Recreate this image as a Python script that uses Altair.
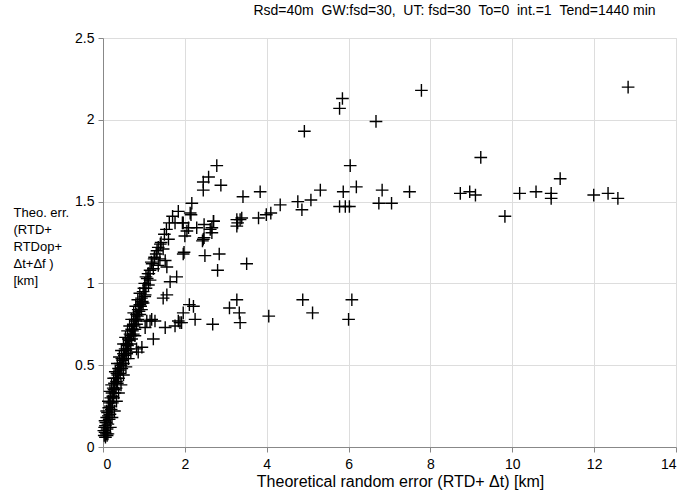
import altair as alt
import pandas as pd

# scattered points (theoretical random error [km], theo. err. [km])
x_sc = [12.83, 7.78, 5.85, 5.78, 6.67, 4.92, 6.04, 9.23, 11.17, 4.33, 4.76, 4.86, 5.08, 5.31,
        5.87, 6.19, 5.78, 5.92, 6.02, 6.82, 6.74, 7.05, 7.49, 8.73, 8.96, 9.10, 9.82, 10.18,
        10.58, 10.95, 10.95, 11.99, 12.34, 12.58, 4.88, 5.12, 6.08, 6.00,
        2.49, 2.84, 3.51, 2.80, 3.27, 3.09, 3.33, 3.35, 4.05, 2.11, 2.21, 1.96, 2.25, 1.92, 2.68,
        2.78, 2.58, 2.45, 2.88, 2.45, 3.42, 3.84, 2.17, 2.13, 1.96, 2.05, 2.00, 2.29, 2.47, 2.70,
        2.66, 2.66, 2.45, 2.43, 2.47, 3.27, 3.39, 3.27, 3.80, 3.99, 4.10, 1.84, 1.76, 1.94,
        1.96, 1.98, 1.60, 1.47, 1.39, 1.52, 1.35, 1.56, 1.23, 1.80, 1.64, 1.15, 1.11, 1.56,
        1.47, 1.03, 0.95, 0.90, 1.23, 0.95, 1.52, 1.76, 1.88, 1.27, 1.07, 1.03, 0.82, 0.86,
        0.78, 1.15, 2.15, 2.62, 2.09, 3.35, 3.29, 1.19, 1.84, 2.70]
y_sc = [2.20, 2.18, 2.13, 2.07, 1.99, 1.93, 1.72, 1.77, 1.64, 1.48, 1.50, 1.45, 1.51, 1.57,
        1.56, 1.59, 1.47, 1.47, 1.47, 1.57, 1.49, 1.49, 1.56, 1.55, 1.56, 1.54, 1.41, 1.55,
        1.56, 1.55, 1.52, 1.54, 1.55, 1.52, 0.90, 0.82, 0.90, 0.78,
        1.17, 1.18, 1.12, 1.08, 0.90, 0.85, 0.82, 0.76, 0.80, 0.87, 0.86, 0.82, 0.78, 0.76, 0.75,
        1.72, 1.65, 1.62, 1.60, 1.57, 1.53, 1.56, 1.49, 1.43, 1.37, 1.32, 1.29, 1.34, 1.36, 1.38,
        1.34, 1.31, 1.27, 1.26, 1.28, 1.39, 1.40, 1.35, 1.40, 1.42, 1.43, 1.44, 1.37, 1.37,
        1.18, 1.19, 1.27, 1.21, 1.15, 1.14, 1.11, 1.10, 1.09, 1.04, 1.01, 1.02, 0.99, 0.93,
        0.91, 0.93, 0.88, 0.86, 0.66, 0.61, 0.73, 0.74, 0.76, 0.77, 0.77, 0.73, 0.60, 0.58,
        0.68, 0.77, 1.42, 1.33, 1.34, 1.39, 1.37, 0.78, 0.77, 1.38]

# dense band of points near the origin
x_band = [0.03, 0.05, 0.08, 0.04, 0.10, 0.07, 0.12, 0.09, 0.15, 0.11, 0.17, 0.14, 0.20, 0.16,
          0.23, 0.19, 0.26, 0.22, 0.29, 0.25, 0.32, 0.28, 0.35, 0.31, 0.38, 0.34, 0.42, 0.38,
          0.46, 0.42, 0.50, 0.46, 0.54, 0.50, 0.58, 0.54, 0.62, 0.58, 0.66, 0.62, 0.70, 0.66,
          0.74, 0.70, 0.78, 0.74, 0.82, 0.78, 0.86, 0.82, 0.90, 0.86, 0.94, 0.90, 0.98, 0.94,
          1.02, 0.98, 1.05, 1.02, 1.08, 1.10, 1.15, 1.20, 1.25, 1.30, 1.35, 1.42, 1.50, 1.55,
          1.62, 1.70, 0.02, 0.06, 0.10, 1.00, 1.05, 1.12, 1.18, 1.26, 1.32, 1.40,
          0.06, 0.13, 0.18, 0.24, 0.27, 0.33, 0.36, 0.40, 0.44, 0.48, 0.52, 0.56, 0.60, 0.64,
          0.68, 0.72, 0.76, 0.80, 0.84, 0.88, 0.92, 0.96, 0.05, 0.09, 0.13, 0.17, 0.21, 0.26,
          0.30, 0.35, 0.40, 0.45, 0.50, 0.55, 0.60, 0.65, 0.70, 0.75, 0.80, 0.85, 0.90, 0.12,
          0.18, 0.22, 0.28, 0.33, 0.38, 0.44, 0.50, 0.56, 0.62, 0.68]
y_band = [0.07, 0.09, 0.08, 0.12, 0.11, 0.15, 0.14, 0.18, 0.17, 0.21, 0.20, 0.24, 0.23, 0.27,
          0.27, 0.30, 0.30, 0.33, 0.33, 0.36, 0.36, 0.39, 0.39, 0.42, 0.42, 0.45, 0.45, 0.48,
          0.48, 0.51, 0.51, 0.54, 0.54, 0.57, 0.57, 0.60, 0.60, 0.63, 0.63, 0.66, 0.66, 0.69,
          0.69, 0.72, 0.72, 0.75, 0.75, 0.78, 0.78, 0.81, 0.81, 0.84, 0.84, 0.87, 0.88, 0.91,
          0.92, 0.95, 0.97, 1.00, 1.03, 1.06, 1.08, 1.12, 1.15, 1.18, 1.22, 1.25, 1.30, 1.33,
          1.37, 1.41, 0.10, 0.06, 0.07, 0.97, 1.04, 1.06, 1.13, 1.16, 1.20, 1.24,
          0.13, 0.19, 0.25, 0.31, 0.35, 0.40, 0.44, 0.47, 0.50, 0.53, 0.56, 0.59, 0.62, 0.65,
          0.68, 0.71, 0.74, 0.77, 0.80, 0.83, 0.86, 0.89, 0.16, 0.22, 0.28, 0.34, 0.38, 0.42,
          0.46, 0.51, 0.55, 0.59, 0.63, 0.67, 0.71, 0.74, 0.78, 0.82, 0.86, 0.90, 0.94, 0.08,
          0.12, 0.18, 0.22, 0.28, 0.33, 0.38, 0.44, 0.49, 0.54, 0.58]

x_ticks = [0, 2, 4, 6, 8, 10, 12, 14]
y_ticks = [0, 0.5, 1, 1.5, 2, 2.5]

NB = "\u00a0"
title_text = f"Rsd=40m{NB*2}GW:fsd=30,{NB*2}UT: fsd=30{NB*2}To=0{NB*2}int.=1{NB*2}Tend=1440 min"
x_title = "Theoretical random error (RTD+ \u0394t) [km]"
y_title = ["Theo. err.", "(RTD+", "RTDop+", "\u0394t+\u0394f )", NB + "[km]"]

df = pd.DataFrame({"x": x_sc + x_band, "y": y_sc + y_band})

FONT = "Liberation Sans"

chart = alt.Chart(df).mark_point(
    shape="M-1,0L1,0M0,-1L0,1",
    filled=False,
    stroke="black",
    strokeWidth=1.4,
    size=160,
    opacity=1,
).encode(
    x=alt.X("x:Q", scale=alt.Scale(domain=[0, 14], nice=False),
            axis=alt.Axis(values=x_ticks, title=x_title, titleFontWeight="normal",
                          titleFontSize=16, titlePadding=2, labelPadding=5, titleX=297,
                          labelFontSize=14, labelFont=FONT, titleFont=FONT)),
    y=alt.Y("y:Q", scale=alt.Scale(domain=[0, 2.5], nice=False),
            axis=alt.Axis(values=y_ticks, format="~g", title=y_title, titleAngle=0,
                          titleAlign="left", titleBaseline="top", titleX=-90, titleY=168,
                          titleFontWeight="normal", titleFontSize=13, titleLineHeight=17,
                          labelPadding=4, labelFontSize=14, labelFont=FONT, titleFont=FONT)),
).properties(
    width=573,
    height=409,
    title=alt.TitleParams(title_text, fontSize=14, fontWeight="normal", font=FONT,
                          anchor="middle", dx=65, offset=13, color="black"),
    autosize="none",
    padding={"left": 103, "top": 38, "right": 9, "bottom": 47},
).configure_view(
    stroke="black", strokeWidth=1
).configure_axis(
    domainColor="black", tickColor="black", labelColor="black", titleColor="black",
    grid=False, tickSize=4, domainWidth=1,
).configure(background="white")

chart.save("out.html", embed_options={"renderer": "svg", "actions": False})
